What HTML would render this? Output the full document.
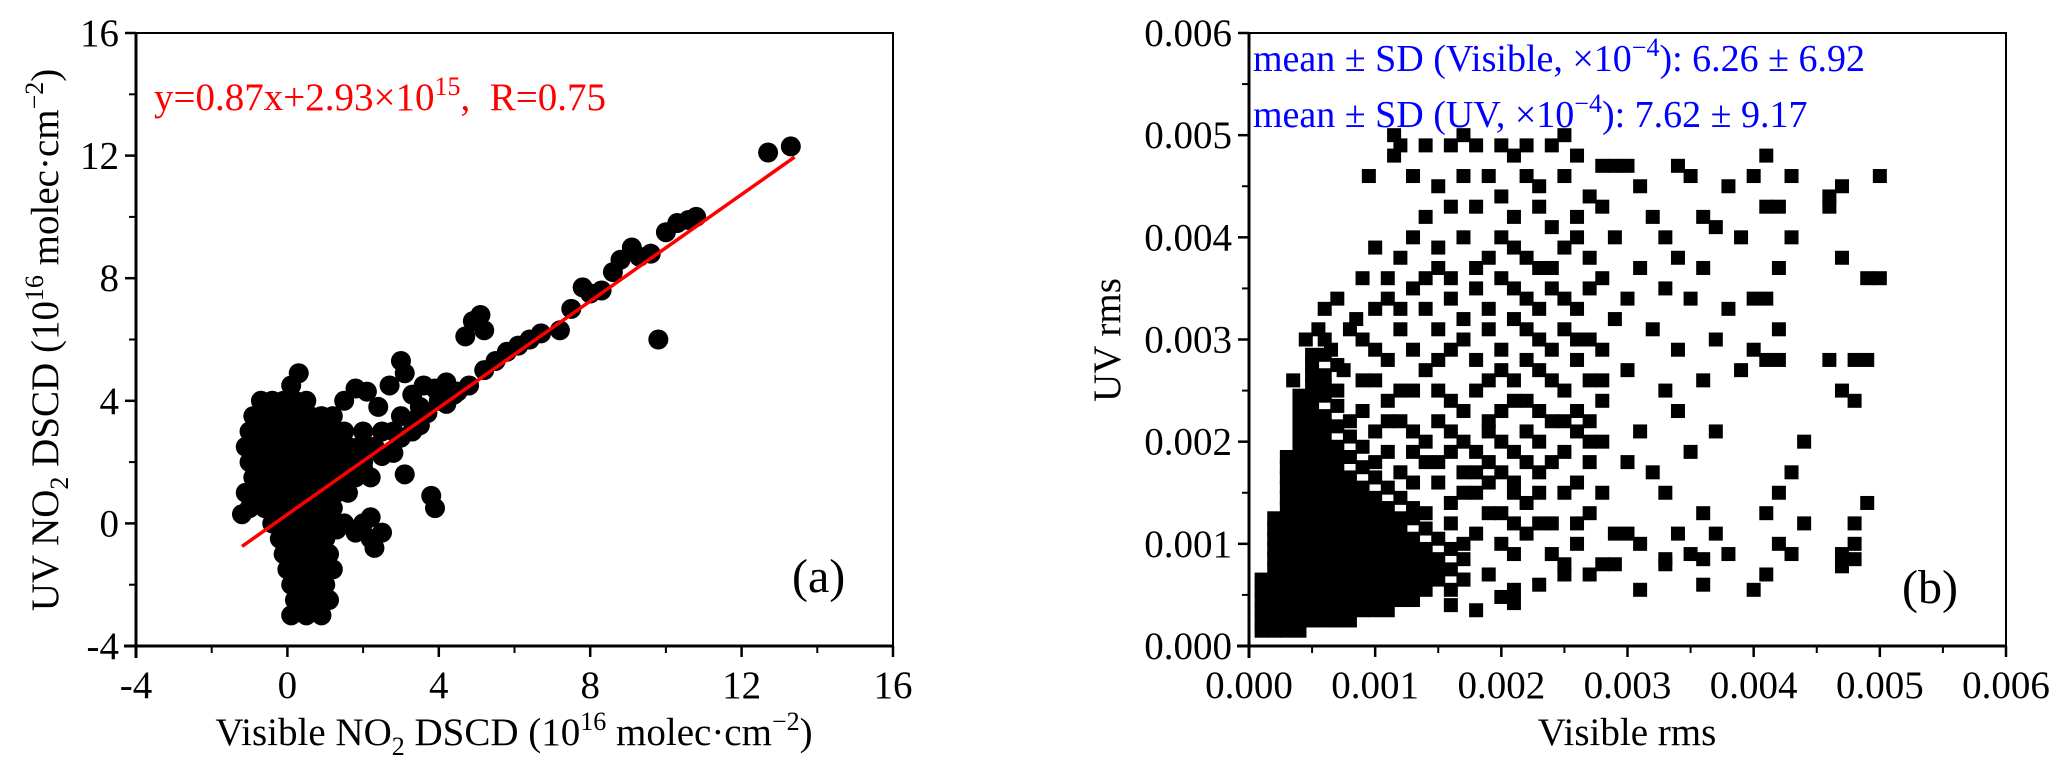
<!DOCTYPE html>
<html><head><meta charset="utf-8"><style>
html,body{margin:0;padding:0;background:#fff;}
svg{display:block;font-family:"Liberation Serif",serif;}
</style></head><body>
<svg id="chart" width="2067" height="776" viewBox="0 0 2067 776" xmlns="http://www.w3.org/2000/svg">
<g id="pa"></g>
<g id="pb"></g>
</svg>
<script>
// Panel (a) data (10^16 molec/cm2)
const aVisX = [0.1,0.3,-0.7,-0.4,-0.1,0.2,0.5,-0.9,-0.6,-0.3,0,0.3,0.6,0.9,-1.0,-0.7,-0.4,-0.1,0.2,0.5,0.8,1.1,-1.1,-0.8,-0.5,-0.2,0.1,0.4,0.7,1.0,1.3,1.6,-1.0,-0.7,-0.4,-0.1,0.2,0.5,0.8,1.1,1.4,1.7,2.0,-0.9,-0.6,-0.3,0,0.3,0.6,0.9,1.2,1.5,1.8,-1.1,-0.8,-0.5,-0.2,0.1,0.4,0.7,1.0,1.3,1.6,-1.0,-0.6,-0.3,0,0.3,0.6,0.9,1.2,-1.2,-0.4,-0.1,0.2,0.5,0.8,1.1,1.5,2.0,-0.2,0.1,0.4,0.7,1.0,2.2,-0.1,0.2,0.5,0.8,1.1,0,0.3,0.6,0.9,1.2,0.1,0.4,0.7,1.0,0.2,0.5,0.8,1.1,0.1,0.5,0.9,
1.2,1.5,1.8,2.1,2.4,2.7,3.0,3.1,3.3,3.6,3.9,4.2,2.0,2.5,3.0,3.5,1.5,1.9,2.3,2.8,3.4,4.0,4.5,4.8,5.2,5.5,5.8,6.1,6.4,6.7,7.2,7.5,7.8,8.0,8.3,8.6,8.8,9.1,9.3,9.6,10.0,10.3,10.6,10.8,4.9,5.1,4.7,5.2,9.8,12.7,13.3,3.9,3.8,3.1,2.3,2.2,1.8,2.5,1.3,4.4,1.5,2.0,2.5,3.0,3.5,1.2,2.2,2.8,3.3,3.7,4.2,0.8];
const aUvY = [4.5,4.9,4.0,4.0,4.0,4.0,4.0,3.5,3.5,3.5,3.5,3.5,3.5,3.5,3.0,3.0,3.0,3.0,3.0,3.0,3.0,3.0,2.5,2.5,2.5,2.5,2.5,2.5,2.5,2.5,2.5,2.5,2.0,2.0,2.0,2.0,2.0,2.0,2.0,2.0,2.0,2.0,2.0,1.5,1.5,1.5,1.5,1.5,1.5,1.5,1.5,1.5,1.5,1.0,1.0,1.0,1.0,1.0,1.0,1.0,1.0,1.0,1.0,0.5,0.5,0.5,0.5,0.5,0.5,0.5,0.5,0.3,0,0,0,0,0,0,0,0,-0.5,-0.5,-0.5,-0.5,-0.5,-0.5,-1.0,-1.0,-1.0,-1.0,-1.0,-1.5,-1.5,-1.5,-1.5,-1.5,-2.0,-2.0,-2.0,-2.0,-2.5,-2.5,-2.5,-2.5,-3.0,-3.0,-3.0,
3.5,4.0,4.4,4.3,3.8,4.5,5.3,4.9,4.2,4.5,4.4,4.6,3.0,3.0,3.5,3.8,3.0,2.5,2.5,3.0,3.4,4.0,4.3,4.5,5.0,5.3,5.6,5.8,6.0,6.2,6.3,7.0,7.7,7.5,7.6,8.2,8.6,9.0,8.7,8.8,9.5,9.8,9.9,10.0,6.6,6.8,6.1,6.3,6.0,12.1,12.3,0.5,0.9,1.6,-0.8,0.2,-0.3,-0.3,-0.2,4.2,1.3,1.8,2.2,2.8,3.2,1.0,1.5,2.3,3.0,3.6,3.9,-0.3];
const aFit = [0.87, 0.293]; // slope, intercept
const aFitRange = [-1.2, 13.4];
const aTicks = [-4,0,4,8,12,16];

// Panel (b) data (units of 1e-4)
const bVisX = [1,2,3,4, 1,2,3,4,5,6,7,8, 1,2,3,4,5,6,7,8,9,10,11, 1,2,3,4,5,6,7,8,9,10,11,12,13, 1,2,3,4,5,6,7,8,9,10,11,12,13,14,16, 1,2,3,4,5,6,7,8,9,10,11,12,13,14,15,17, 2,3,4,5,6,7,8,9,10,11,12,13,14,15,16, 2,3,4,5,6,7,8,9,10,11,12,13,14,15,17, 2,3,4,5,6,7,8,9,10,11,12,13,14,16, 2,3,4,5,6,7,8,9,10,11,12,13,15, 2,3,4,5,6,7,8,9,10,11,12,14, 2,3,4,5,6,7,8,9,10,11,12,13, 3,4,5,6,7,8,9,10,11,13, 3,4,5,6,7,8,9,10,12, 3,4,5,6,7,8,9,11, 3,4,5,6,7,8,10, 3,4,5,6,7,9, 3,4,5,6,7,8, 4,5,6,7,9, 4,5,6,8, 4,5,6,7, 4,5,6, 4,5,7, 4,5,6, 5,6, 5,6, 5,7, 5,6,
9.5,11.5,11.5,12,14,13,16,17,18,20,21,22,24,25,26,28,15,17,19,20,22,23,25,27,29,30,31,34,35,38,40,41,43,42,46,47,50,46,
14,16,18,21,23,24,26,28,32,33,36,37,41,43,
12,15,17,19,21,23,25,27,29,31,34,36,39,40,42,47,49,50,
9,11,13,16,18,20,22,24,26,28,30,33,35,38,41,42,
7,10,12,14,17,19,21,23,25,27,29,32,34,37,40,42,46,48,49,
6,8,10,13,15,18,20,22,24,26,28,30,33,36,39,41,47,48,
7,9,11,13,16,18,20,22,24,26,28,31,34,37,44,
8,10,12,14,16,18,20,22,25,27,30,32,35,43,42,
10,12,14,17,19,21,23,26,28,33,36,41,48,49,
16,18,20,22,24,27,29,31,34,38,42,44,47,48,41,43,
18,20,22,24,26,28,30,33,35,37,40,47,48,
17,19,21,23,25,27,29,31,33,36,36,16,18,20,21];
const bUvY = [1.5,1.5,1.5,1.5, 2.5,2.5,2.5,2.5,2.5,2.5,2.5,2.5, 3.5,3.5,3.5,3.5,3.5,3.5,3.5,3.5,3.5,3.5,3.5, 4.5,4.5,4.5,4.5,4.5,4.5,4.5,4.5,4.5,4.5,4.5,4.5,4.5, 5.5,5.5,5.5,5.5,5.5,5.5,5.5,5.5,5.5,5.5,5.5,5.5,5.5,5.5,5.5, 6.5,6.5,6.5,6.5,6.5,6.5,6.5,6.5,6.5,6.5,6.5,6.5,6.5,6.5,6.5,6.5, 7.5,7.5,7.5,7.5,7.5,7.5,7.5,7.5,7.5,7.5,7.5,7.5,7.5,7.5,7.5, 8.5,8.5,8.5,8.5,8.5,8.5,8.5,8.5,8.5,8.5,8.5,8.5,8.5,8.5,8.5, 9.5,9.5,9.5,9.5,9.5,9.5,9.5,9.5,9.5,9.5,9.5,9.5,9.5,9.5, 10.5,10.5,10.5,10.5,10.5,10.5,10.5,10.5,10.5,10.5,10.5,10.5,10.5, 11.5,11.5,11.5,11.5,11.5,11.5,11.5,11.5,11.5,11.5,11.5,11.5, 12.5,12.5,12.5,12.5,12.5,12.5,12.5,12.5,12.5,12.5,12.5,12.5, 13.5,13.5,13.5,13.5,13.5,13.5,13.5,13.5,13.5,13.5, 14.5,14.5,14.5,14.5,14.5,14.5,14.5,14.5,14.5, 15.5,15.5,15.5,15.5,15.5,15.5,15.5,15.5, 16.5,16.5,16.5,16.5,16.5,16.5,16.5, 17.5,17.5,17.5,17.5,17.5,17.5, 18.5,18.5,18.5,18.5,18.5,18.5, 19.5,19.5,19.5,19.5,19.5, 20.5,20.5,20.5,20.5, 21.5,21.5,21.5,21.5, 22.5,22.5,22.5, 23.5,23.5,23.5, 24.5,24.5,24.5, 25.5,25.5, 26.5,26.5, 27.5,27.5, 28.5,28.5,
46,48,50,49,49,46,49,50,49,49,48,49,49,50,48,47,45,46,46,44,46,45,46,44,47,47,45,47,46,45,46,48,46,43,44,45,46,43,
42,43,43,42,43,41,42,43,42,40,42,41,43,40,
38,39,40,38,39,37,39,38,40,37,38,37,40,34,37,38,36,36,
36,36,35,36,35,36,34,35,33,36,34,35,34,33,34,31,
34,33,31,33,32,31,32,30,31,30,32,31,29,30,29,28,28,28,28,
30,31,29,29,28,28,27,28,26,28,26,27,25,26,27,28,25,24,
25,26,24,25,24,25,23,24,22,23,24,21,23,21,20,
22,21,22,20,21,19,20,21,19,20,18,17,19,17,15,
18,17,18,17,18,16,17,16,15,15,13,13,12,14,
14,15,13,14,12,13,11,10,11,9,10,12,9,10,7,9,
11,10,11,9,10,8,11,8,9,11,5.5,7.8,8.5,
6.5,7,5.5,6,7,7,8,5.5,8.5,8.5,6,4,3.5,4.8,4.2];
// additional middle-density points (units of 1e-4)
const bMidX = [10,13,15,18,20,22,24,26,11,14,16,19,21,23,25,27,12,15,17,20,22,24,26,28,9,11,14,16,19,21,23,25,27,10,12,15,17,19,21,23,25,27,9,11,13,15,17,19,21,23,26,28,11,13,15,16,18,20,22,24,27,13,15,17,19,21,23,25,14,16,19,21,23,26,17,21,25,4.5,5.5,6.5,3.5,7.5,6,8.5];
const bMidY = [39,40,37,37,40,38,37,40,34,36,34,33,35,33,34,35,33,31,30,29,31,29,30,29,30,28,27,29,26,26,27,25,26,26,25,25,23,22,24,23,22,22,23,22,21,22,20,21,19,20,21,20,19,19,18,19,17,17,18,18,18,16,16,15,16,15,15,15,13,12,13,12,12,12,10,9,8,30,31,29,26,27,33,32];
const bTicks = [0,0.001,0.002,0.003,0.004,0.005,0.006];
const bTickLabels = ["0.000","0.001","0.002","0.003","0.004","0.005","0.006"];

const NS="http://www.w3.org/2000/svg";
function mk(tag,attrs,parent){const e=document.createElementNS(NS,tag);for(const k in attrs)e.setAttribute(k,attrs[k]);parent.appendChild(e);return e;}

const A={x0:136,x1:893,y0:646,y1:33,min:-4,max:16};
const B={x0:1249,x1:2006,y0:646,y1:33,min:0,max:0.006};
const ax=v=>A.x0+(v-A.min)/(A.max-A.min)*(A.x1-A.x0);
const ay=v=>A.y0-(v-A.min)/(A.max-A.min)*(A.y0-A.y1);
const bx=v=>B.x0+(v-B.min)/(B.max-B.min)*(B.x1-B.x0);
const by=v=>B.y0-(v-B.min)/(B.max-B.min)*(B.y0-B.y1);

function axes(g,P,ticks,labels,fx,fy,pre){
  const f=mk('rect',{x:P.x0,y:P.y1,width:P.x1-P.x0,height:P.y0-P.y1,fill:'none',stroke:'#000','stroke-width':2},g);
  
  
  mk('line',{x1:P.x0-12,y1:P.y0,x2:P.x1,y2:P.y0,stroke:'#000','stroke-width':3},g);
  mk('line',{x1:P.x0,y1:P.y1,x2:P.x0,y2:P.y0+12,stroke:'#000','stroke-width':3},g);
  for(let i=0;i<ticks.length;i++){
    const t=ticks[i];
    const X=fx(t),Y=fy(t);
    mk('line',{x1:X,y1:P.y0,x2:X,y2:P.y0+11,stroke:'#000','stroke-width':2.5},g);
    mk('line',{x1:P.x0-11,y1:Y,x2:P.x0,y2:Y,stroke:'#000','stroke-width':2.5},g);
    const xl=mk('text',{x:X,y:698,'font-size':39,'text-anchor':'middle',fill:'#000'},g);
    xl.textContent=labels[i];
    
    
    const yl=mk('text',{x:P.x0-17,y:Y+13,'font-size':39,'text-anchor':'end',fill:'#000'},g);
    yl.textContent=labels[i];
    
    
    if(i<ticks.length-1){
      const m=(t+ticks[i+1])/2;
      mk('line',{x1:fx(m),y1:P.y0,x2:fx(m),y2:P.y0+7,stroke:'#000','stroke-width':2},g);
      mk('line',{x1:P.x0-7,y1:fy(m),x2:P.x0,y2:fy(m),stroke:'#000','stroke-width':2},g);
    }
  }
}

const ga=document.getElementById('pa');
axes(ga,A,aTicks,aTicks.map(String),ax,ay,'a');
const pts=mk('g',{},ga);


for(let i=0;i<aVisX.length;i++){
  const c=mk('circle',{cx:ax(aVisX[i]),cy:ay(aUvY[i]),r:10,fill:'#000'},pts);
  
  
}
const fl=mk('line',{x1:ax(aFitRange[0]),y1:ay(aFit[0]*aFitRange[0]+aFit[1]),x2:ax(aFitRange[1]),y2:ay(aFit[0]*aFitRange[1]+aFit[1]),stroke:'#ff0000','stroke-width':3.5},ga);



const gb=document.getElementById('pb');
axes(gb,B,bTicks,bTickLabels,bx,by,'b');
const pb=mk('g',{},gb);


const allX=bVisX.concat(bMidX), allY=bUvY.concat(bMidY);
for(let i=0;i<allX.length;i++){
  const r=mk('rect',{x:bx(allX[i]*1e-4)-7,y:by(allY[i]*1e-4)-7,width:14,height:14,fill:'#000'},pb);
  
  
}
</script>
<svg style="position:absolute;left:0;top:0" width="2067" height="776" xmlns="http://www.w3.org/2000/svg" font-family="Liberation Serif, serif">
<text x="154" y="110" font-size="39" fill="#ff0000" xml:space="preserve">y=0.87x+2.93×10<tspan dy="-15" font-size="26">15</tspan><tspan dy="15">,  R=0.75</tspan></text>
<text x="792" y="592" font-size="48" fill="#000">(a)</text>
<text x="514" y="745" font-size="39" text-anchor="middle" fill="#000">Visible NO<tspan dy="10" font-size="26">2</tspan><tspan dy="-10"> DSCD (10</tspan><tspan dy="-15" font-size="26">16</tspan><tspan dy="15"> molec·cm</tspan><tspan dy="-15" font-size="26">−2</tspan><tspan dy="15">)</tspan></text>
<text transform="translate(58,340) rotate(-90)" font-size="39" text-anchor="middle" fill="#000">UV NO<tspan dy="10" font-size="26">2</tspan><tspan dy="-10"> DSCD (10</tspan><tspan dy="-15" font-size="26">16</tspan><tspan dy="15"> molec·cm</tspan><tspan dy="-15" font-size="26">−2</tspan><tspan dy="15">)</tspan></text>
<text x="1253" y="71" font-size="38" fill="#0000ff">mean ± SD (Visible, ×10<tspan dy="-15" font-size="26">−4</tspan><tspan dy="15">): 6.26 ± 6.92</tspan></text>
<text x="1253" y="127" font-size="38" fill="#0000ff">mean ± SD (UV, ×10<tspan dy="-15" font-size="26">−4</tspan><tspan dy="15">): 7.62 ± 9.17</tspan></text>
<text x="1902" y="603" font-size="48" fill="#000">(b)</text>
<text x="1627" y="745" font-size="39" text-anchor="middle" fill="#000">Visible rms</text>
<text transform="translate(1120,340) rotate(-90)" font-size="39" text-anchor="middle" fill="#000">UV rms</text>
</svg>
</body></html>
